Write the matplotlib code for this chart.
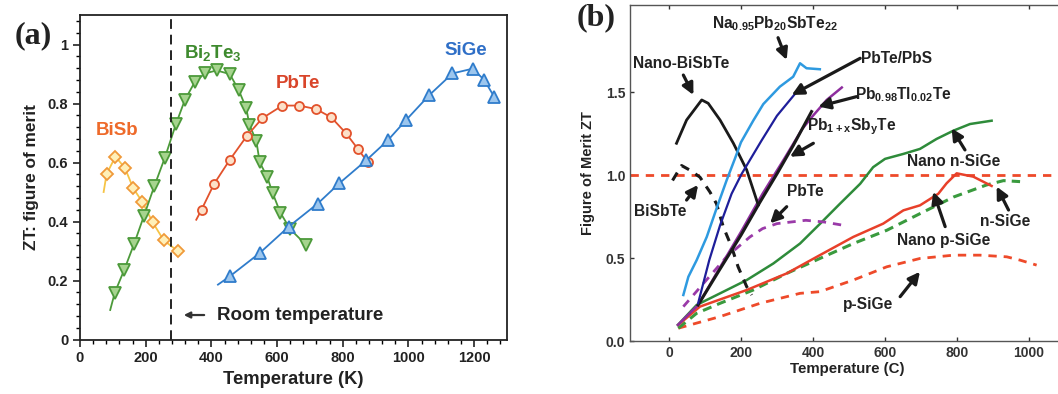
import matplotlib
matplotlib.use("Agg")
import matplotlib.pyplot as plt
from matplotlib.ticker import MultipleLocator, AutoMinorLocator

plt.rcParams["font.family"] = ["Liberation Sans", "DejaVu Sans"]
plt.rcParams["font.weight"] = "bold"
plt.rcParams["mathtext.default"] = "regular"

# ---------------- panel (a): ZT vs temperature (K) ----------------
bisb_T = [72, 81, 108, 137, 162, 190, 221, 255, 299]
bisb_zt = [0.50, 0.561, 0.620, 0.581, 0.513, 0.466, 0.398, 0.336, 0.299]

bi2te3_T = [92, 106, 135, 165, 195, 226, 258, 292, 319, 349, 380, 416, 456,
            483, 506, 516, 537, 547, 570, 587, 610, 640, 689]
bi2te3_zt = [0.10, 0.159, 0.237, 0.325, 0.420, 0.519, 0.615, 0.730, 0.811,
             0.872, 0.902, 0.912, 0.900, 0.846, 0.785, 0.727, 0.673, 0.601,
             0.551, 0.495, 0.430, 0.374, 0.320]

pbte_T = [354, 370, 408, 456, 508, 555, 616, 668, 719, 765, 810, 846, 876]
pbte_zt = [0.406, 0.440, 0.527, 0.609, 0.690, 0.750, 0.793, 0.793, 0.781,
           0.753, 0.699, 0.646, 0.601]

sige_T = [420, 456, 547, 636, 724, 790, 871, 937, 992, 1063, 1134, 1195,
          1230, 1261]
sige_zt = [0.186, 0.214, 0.293, 0.383, 0.461, 0.530, 0.607, 0.675, 0.743,
           0.828, 0.902, 0.918, 0.881, 0.823]

room_T = 277

# ---------------- panel (b): ZT vs temperature (C) ----------------
napb_T = [40, 54, 77, 105, 132, 160, 183, 200, 234, 262, 308, 345, 364, 382, 419]
napb_zt = [0.28, 0.39, 0.49, 0.63, 0.80, 0.97, 1.10, 1.20, 1.33, 1.43, 1.535,
           1.595, 1.676, 1.646, 1.640]

pbtepbs_T = [81, 112, 142, 174, 202, 257, 300, 359]
pbtepbs_zt = [0.23, 0.49, 0.70, 0.89, 1.01, 1.21, 1.36, 1.515]

nanobisbte_T = [21, 49, 91, 109, 142, 179, 216, 248]
nanobisbte_zt = [1.194, 1.334, 1.455, 1.435, 1.334, 1.194, 1.033, 0.822]

bisbte_T = [10, 35, 60, 86, 114, 132, 151, 174, 192, 216, 230]
bisbte_zt = [0.97, 1.06, 1.03, 0.99, 0.90, 0.83, 0.69, 0.57, 0.45, 0.33, 0.28]

pbsbte_T = [81, 140, 200, 253, 300, 345, 396]
pbsbte_zt = [0.22, 0.43, 0.64, 0.84, 1.01, 1.18, 1.385]

pbtl_T = [25, 81, 140, 200, 260, 320, 370, 400, 438, 480]
pbtl_zt = [0.10, 0.22, 0.44, 0.66, 0.89, 1.10, 1.28, 1.36, 1.455, 1.53]

pbte_b_T = [40, 100, 160, 225, 260, 300, 380, 430, 484]
pbte_b_zt = [0.21, 0.36, 0.51, 0.63, 0.68, 0.71, 0.73, 0.72, 0.70]

nano_n_T = [25, 77, 142, 216, 290, 364, 420, 475, 531, 567, 600, 651, 697,
            743, 790, 836, 896]
nano_n_zt = [0.10, 0.22, 0.29, 0.37, 0.47, 0.59, 0.71, 0.83, 0.95, 1.05, 1.10,
             1.13, 1.16, 1.22, 1.27, 1.31, 1.33]

nano_p_T = [26, 86, 216, 327, 419, 512, 595, 651, 697, 748, 771, 799, 845, 896]
nano_p_zt = [0.10, 0.21, 0.31, 0.41, 0.52, 0.63, 0.71, 0.79, 0.82, 0.89,
             0.953, 1.013, 0.993, 0.937]

n_sige_T = [26, 77, 142, 234, 327, 419, 512, 605, 697, 790, 882, 929, 975]
n_sige_zt = [0.08, 0.17, 0.23, 0.31, 0.41, 0.50, 0.59, 0.67, 0.77, 0.87,
             0.943, 0.969, 0.963]

p_sige_T = [26, 142, 253, 364, 419, 512, 605, 697, 790, 864, 938, 975, 1021]
p_sige_zt = [0.08, 0.15, 0.23, 0.29, 0.30, 0.37, 0.45, 0.50, 0.52, 0.52,
             0.51, 0.49, 0.46]

zt_reference = 1.0

fig = plt.figure(figsize=(10.58, 3.94), dpi=100)

# ======== panel (a) ========
axa = fig.add_axes([0.0756, 0.1383, 0.4036, 0.8236])
axa.set_xlim(0, 1300)
axa.set_ylim(0, 1.1)

ms_kw = dict(markevery=slice(1, None), lw=1.3, mew=1.3)
axa.plot(bisb_T, bisb_zt, color="#F6C445", marker="D", ms=6,
         mec="#F09A3A", mfc="#FFF0B8", **ms_kw)
axa.plot(bi2te3_T, bi2te3_zt, color="#4C9A3A", marker="v", ms=8.5,
         mec="#4C9A3A", mfc="#A6D48E", **ms_kw)
axa.plot(pbte_T, pbte_zt, color="#E2522C", marker="o", ms=6.5,
         mec="#E2522C", mfc="#FCE0C8", **ms_kw)
axa.plot(sige_T, sige_zt, color="#2F7CCB", marker="^", ms=8.5,
         mec="#2F7CCB", mfc="#9CC6EE", **ms_kw)

axa.axvline(room_T, color="#222222", lw=1.4, ls=(0, (5, 3)))
axa.annotate("", xy=(316, 0.083), xytext=(378, 0.083),
             arrowprops=dict(arrowstyle="-|>", color="#333333", lw=1.6,
                             mutation_scale=9, shrinkA=0, shrinkB=0))
axa.text(416, 0.083, "Room temperature", fontsize=13.5, fontweight="bold",
         color="#222222", va="center", ha="left")

axa.text(112, 0.71, "BiSb", color="#EE6A2A", fontsize=13.5,
         fontweight="bold", ha="center", va="center")
axa.text(405, 0.97, "Bi$_2$Te$_3$", color="#3E8A2E", fontsize=13.5,
         fontweight="bold", ha="center", va="center")
axa.text(663, 0.868, "PbTe", color="#D9452A", fontsize=13.5,
         fontweight="bold", ha="center", va="center")
axa.text(1175, 0.98, "SiGe", color="#2F6FC7", fontsize=13.5,
         fontweight="bold", ha="center", va="center")

axa.xaxis.set_major_locator(MultipleLocator(200))
axa.xaxis.set_minor_locator(AutoMinorLocator(5))
axa.yaxis.set_major_locator(MultipleLocator(0.2))
axa.yaxis.set_minor_locator(AutoMinorLocator(5))
axa.set_yticks([0, 0.2, 0.4, 0.6, 0.8, 1.0])
axa.set_yticklabels(["0", "0.2", "0.4", "0.6", "0.8", "1"])
axa.tick_params(which="major", direction="out", length=5, width=1.2,
                labelsize=10.5, colors="#222222")
axa.tick_params(which="minor", direction="out", length=3, width=1.0)
for lab in axa.get_xticklabels() + axa.get_yticklabels():
    lab.set_fontweight("bold")
for sp in axa.spines.values():
    sp.set_linewidth(1.3)
    sp.set_color("#222222")
axa.set_xlabel("Temperature (K)", fontsize=13.2, fontweight="bold",
               color="#222222", labelpad=4)
axa.set_ylabel("ZT: figure of merit", fontsize=12.4, fontweight="bold",
               color="#222222", labelpad=6)
fig.text(0.031, 0.91, "(a)", fontsize=23, fontweight="bold",
         family="Liberation Serif", ha="center", va="center", color="#222222")

# ======== panel (b) ========
axb = fig.add_axes([0.5955, 0.1333, 0.4112, 0.854])
axb.set_xlim(-108, 1100)
axb.set_ylim(0, 2.027)

axb.axhline(zt_reference, color="#EE4A2A", lw=2.0, ls=(0, (3, 2.5)))
axb.plot(p_sige_T, p_sige_zt, color="#EE4A2A", lw=2.0, ls=(0, (3, 2.5)))
axb.plot(n_sige_T, n_sige_zt, color="#3A9A3E", lw=2.2, ls=(0, (3, 2)))
axb.plot(nano_p_T, nano_p_zt, color="#E8402A", lw=1.8)
axb.plot(nano_n_T, nano_n_zt, color="#2E8B3A", lw=1.8)
axb.plot(pbte_b_T, pbte_b_zt, color="#9A3AA8", lw=2.0, ls=(0, (3, 2.5)))
axb.plot(pbtl_T, pbtl_zt, color="#8E2E9E", lw=1.8)
axb.plot(pbsbte_T, pbsbte_zt, color="#1A1A1A", lw=2.2)
axb.plot(bisbte_T, bisbte_zt, color="#1A1A1A", lw=2.2, ls=(0, (3, 2.5)))
axb.plot(nanobisbte_T, nanobisbte_zt, color="#1A1A1A", lw=2.0)
axb.plot(pbtepbs_T, pbtepbs_zt, color="#1E1E9A", lw=1.6)
axb.plot(napb_T, napb_zt, color="#2E9AE0", lw=1.8)

notes = [
    ("Na$_{0.95}$Pb$_{20}$SbTe$_{22}$", (294, 1.917), (303, 1.83), (327, 1.696)),
    ("PbTe/PbS", (632, 1.706), (531, 1.706), (341, 1.485)),
    ("Pb$_{0.98}$Tl$_{0.02}$Te", (651, 1.485), (521, 1.475), (415, 1.415)),
    ("Nano-BiSbTe", (35, 1.676), (40, 1.605), (68, 1.485)),
    ("Pb$_{1+x}$Sb$_y$Te", (507, 1.294), (401, 1.194), (336, 1.113)),
    ("BiSbTe", (-25, 0.782), (49, 0.852), (81, 0.943)),
    ("PbTe", (378, 0.902), (327, 0.812), (281, 0.712)),
    ("Nano n-SiGe", (790, 1.083), (822, 1.154), (785, 1.284)),
    ("n-SiGe", (933, 0.722), (943, 0.792), (910, 0.933)),
    ("Nano p-SiGe", (762, 0.611), (767, 0.692), (734, 0.902)),
    ("p-SiGe", (554, 0.22), (642, 0.27), (697, 0.42)),
]
for label, pos, tail, head in notes:
    axb.text(pos[0], pos[1], label, fontsize=11.2, fontweight="bold",
             color="#222222", ha="center", va="center")
    axb.annotate("", xy=head, xytext=tail,
                 arrowprops=dict(arrowstyle="-|>", color="#1A1A1A", lw=2.3,
                                 mutation_scale=17, shrinkA=0, shrinkB=0))

axb.set_xticks([0, 200, 400, 600, 800, 1000])
axb.set_yticks([0.0, 0.5, 1.0, 1.5])
axb.set_yticklabels(["0.0", "0.5", "1.0", "1.5"])
axb.tick_params(direction="in", length=3, width=1.0, top=True, right=True,
                labelsize=10, colors="#333333")
for lab in axb.get_xticklabels() + axb.get_yticklabels():
    lab.set_fontweight("bold")
for sp in axb.spines.values():
    sp.set_linewidth(1.0)
    sp.set_color("#555555")
axb.set_xlabel("Temperature (C)", fontsize=10.8, fontweight="bold",
               color="#222222", labelpad=1)
axb.set_ylabel("Figure of Merit ZT", fontsize=10.5, fontweight="bold",
               color="#222222", labelpad=8)
fig.text(0.563, 0.955, "(b)", fontsize=23, fontweight="bold",
         family="Liberation Serif", ha="center", va="center", color="#222222")

fig.savefig("out.png", dpi=100)
